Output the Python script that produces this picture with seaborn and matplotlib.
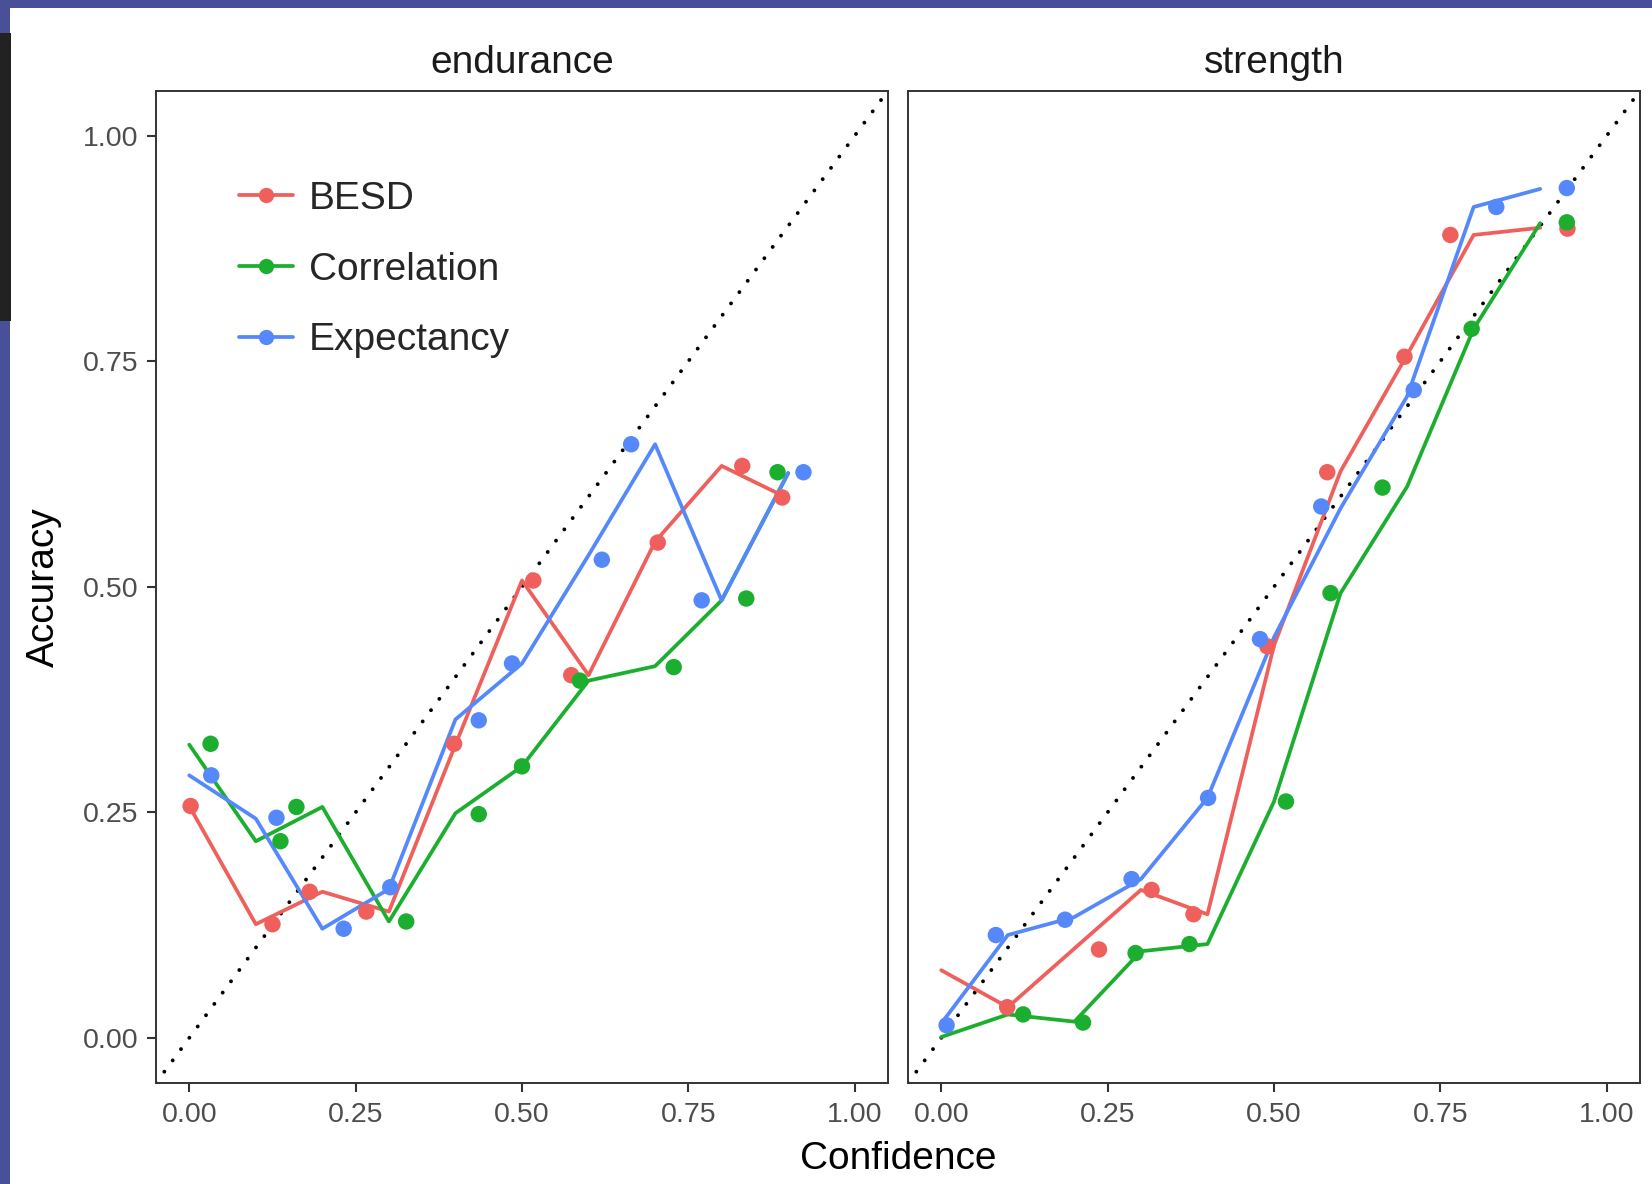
import matplotlib
matplotlib.use("Agg")
import matplotlib.pyplot as plt
from matplotlib.lines import Line2D
from matplotlib.patches import Rectangle
import seaborn as sns
import pandas as pd

sns.set_style("white")
plt.rcParams['font.family'] = ['Liberation Sans', 'DejaVu Sans']

# ---------------- data ----------------
methods = ["BESD", "Correlation", "Expectancy"]
panels = ["endurance", "strength"]
x_ticks = [0.00, 0.25, 0.50, 0.75, 1.00]
tick_labels = ["0.00", "0.25", "0.50", "0.75", "1.00"]

bins = [0.0, 0.1, 0.2, 0.3, 0.4, 0.5, 0.6, 0.7, 0.8, 0.9]

# binned lines
end_besd_line = [0.257, 0.126, 0.162, 0.140, 0.325, 0.507, 0.402, 0.550, 0.634, 0.598]
end_corr_line = [0.325, 0.218, 0.256, 0.129, 0.249, 0.301, 0.396, 0.412, 0.485, 0.626]
end_expe_line = [0.291, 0.243, 0.121, 0.165, 0.353, 0.415, 0.535, 0.658, 0.485, 0.626]

str_besd_line = [0.075, 0.034, 0.099, 0.164, 0.137, 0.435, 0.628, 0.757, 0.890, 0.898]
str_corr_line = [0.001, 0.026, 0.018, 0.096, 0.104, 0.262, 0.493, 0.611, 0.786, 0.903]
str_expe_line = [0.016, 0.114, 0.134, 0.176, 0.266, 0.444, 0.587, 0.711, 0.921, 0.941]

# points
end_besd_x = [0.002, 0.125, 0.181, 0.266, 0.398, 0.517, 0.574, 0.704, 0.831, 0.891]
end_besd_y = [0.257, 0.126, 0.162, 0.140, 0.326, 0.507, 0.402, 0.549, 0.634, 0.599]
end_corr_x = [0.032, 0.137, 0.161, 0.326, 0.435, 0.500, 0.587, 0.728, 0.837, 0.884]
end_corr_y = [0.326, 0.218, 0.256, 0.129, 0.248, 0.301, 0.396, 0.411, 0.487, 0.627]
end_expe_x = [0.033, 0.131, 0.232, 0.302, 0.435, 0.485, 0.620, 0.664, 0.770, 0.923]
end_expe_y = [0.291, 0.244, 0.121, 0.167, 0.352, 0.415, 0.530, 0.658, 0.485, 0.627]

str_besd_x = [0.099, 0.237, 0.316, 0.379, 0.490, 0.580, 0.696, 0.765, 0.941]
str_besd_y = [0.034, 0.098, 0.164, 0.137, 0.434, 0.627, 0.755, 0.890, 0.897]
str_corr_x = [0.123, 0.213, 0.292, 0.373, 0.518, 0.585, 0.663, 0.797, 0.940]
str_corr_y = [0.026, 0.017, 0.094, 0.104, 0.262, 0.493, 0.610, 0.786, 0.904]
str_expe_x = [0.008, 0.082, 0.186, 0.286, 0.401, 0.479, 0.571, 0.710, 0.834, 0.940]
str_expe_y = [0.014, 0.114, 0.131, 0.176, 0.266, 0.442, 0.589, 0.718, 0.921, 0.942]

colors = ["#EF605C", "#1BAE2F", "#5488FB"]
palette = dict(zip(methods, colors))

# ---------------- build tables ----------------
line_sets = {
    "endurance": [end_besd_line, end_corr_line, end_expe_line],
    "strength": [str_besd_line, str_corr_line, str_expe_line],
}
point_sets = {
    "endurance": [(end_besd_x, end_besd_y), (end_corr_x, end_corr_y), (end_expe_x, end_expe_y)],
    "strength": [(str_besd_x, str_besd_y), (str_corr_x, str_corr_y), (str_expe_x, str_expe_y)],
}
line_rows, point_rows = [], []
for p in panels:
    for m, ys in zip(methods, line_sets[p]):
        for x, y in zip(bins, ys):
            line_rows.append((p, m, x, y))
    for m, (xs, ys) in zip(methods, point_sets[p]):
        for x, y in zip(xs, ys):
            point_rows.append((p, m, x, y))
lines_df = pd.DataFrame(line_rows, columns=["panel", "method", "conf", "acc"])
points_df = pd.DataFrame(point_rows, columns=["panel", "method", "conf", "acc"])

# ---------------- figure ----------------
W, H = 1652, 1184
fig = plt.figure(figsize=(W / 100, H / 100), dpi=100)
fig.patch.set_facecolor("white")

# screenshot frame
frame_col = "#4A5097"
fig.patches.append(Rectangle((0, 1 - 8 / H), 1, 8 / H, transform=fig.transFigure,
                             facecolor=frame_col, edgecolor="none", zorder=0))
fig.patches.append(Rectangle((0, 0), 10 / W, 1, transform=fig.transFigure,
                             facecolor=frame_col, edgecolor="none", zorder=0))
fig.patches.append(Rectangle((0, 1 - 321 / H), 11 / W, (321 - 33) / H, transform=fig.transFigure,
                             facecolor="#222222", edgecolor="none", zorder=0))

ax_bottom = 1 - 1083 / H
ax_h = (1083 - 90.6) / H
ax_w = 732 / W
ax1 = fig.add_axes([156 / W, ax_bottom, ax_w, ax_h])
ax2 = fig.add_axes([908 / W, ax_bottom, ax_w, ax_h])

for ax, p in zip([ax1, ax2], panels):
    ax.set_facecolor("white")
    ax.axline((0, 0), (1, 1), color="black", linewidth=2.8,
              linestyle=(0, (0.01, 3.6)), dash_capstyle="round", zorder=1)
    sns.lineplot(data=lines_df[lines_df.panel == p], x="conf", y="acc", hue="method",
                 hue_order=methods, palette=palette, estimator=None, sort=False,
                 linewidth=2.7, legend=False, ax=ax, zorder=2)
    sns.scatterplot(data=points_df[points_df.panel == p], x="conf", y="acc", hue="method",
                    hue_order=methods, palette=palette, s=140, linewidth=0,
                    legend=False, ax=ax, zorder=3)
    ax.set_xlim(-0.05, 1.05)
    ax.set_ylim(-0.05, 1.05)
    ax.set_xticks(x_ticks)
    ax.set_xticklabels(tick_labels)
    ax.set_yticks(x_ticks)
    ax.set_yticklabels(tick_labels)
    ax.set_xlabel("")
    ax.set_ylabel("")
    ax.set_title(p, fontsize=28, color="#1a1a1a", pad=12.5)
    for s in ax.spines.values():
        s.set_visible(True)
        s.set_color("#333333")
        s.set_linewidth(1.4)
    ax.tick_params(axis="both", which="major", length=6.5, width=1.5, color="#333333",
                   labelsize=20.5, labelcolor="#4D4D4D", pad=6, bottom=True, left=True)
    ax.tick_params(axis="x", pad=7.5)

ax2.tick_params(axis="y", left=False, labelleft=False)

# legend
handles = [Line2D([0], [0], color=c, linewidth=2.7, marker="o", markersize=11,
                  markeredgewidth=0) for c in colors]
ax1.legend(handles, methods, loc="upper left", bbox_to_anchor=(0.113, 0.909),
           frameon=False, fontsize=28, handlelength=1.4, handletextpad=0.41,
           labelspacing=0.89, borderpad=0, borderaxespad=0)

fig.text((156 + 1640) / 2 / W, 1 - 1169 / H, "Confidence", ha="center", va="baseline",
         fontsize=28, color="black")
fig.text(44 / W, 1 - 587 / H, "Accuracy", ha="center", va="center", rotation=90,
         fontsize=28, color="black")

fig.savefig("out.png", dpi=100, facecolor=fig.get_facecolor())
